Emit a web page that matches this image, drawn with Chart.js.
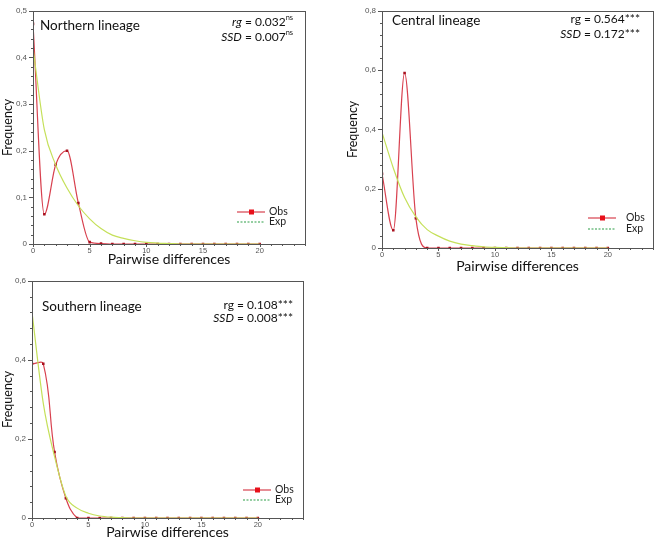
<!DOCTYPE html>
<html lang="en">
<head>
  <meta charset="UTF-8" />
  <title>Mismatch distributions</title>
  <script src="https://cdn.jsdelivr.net/npm/chart.js"></script>
  <style>
    * { margin: 0; padding: 0; }
    body { background: #fff; width: 657px; height: 539px; position: relative; overflow: hidden; }
    .panel { position: absolute; }
  </style>
</head>
<body>
  <div class="panel" id="north-box" style="left:0;top:0;width:312px;height:272px"><canvas id="north"></canvas></div>
  <div class="panel" id="central-box" style="left:345px;top:0;width:312px;height:275px"><canvas id="central"></canvas></div>
  <div class="panel" id="south-box" style="left:0;top:270px;width:312px;height:269px"><canvas id="south"></canvas></div>

  <script>
    // data
    const pairwiseDiffs = [0, 1, 2, 3, 4, 5, 6, 7, 8, 9, 10, 11, 12, 13, 14, 15, 16, 17, 18, 19, 20];
    const xTicks = [0, 5, 10, 15, 20];

    const northObs = [0.472, 0.064, 0.170, 0.200, 0.088, 0.004, 0.001, 0, 0, 0, 0, 0, 0, 0, 0, 0, 0, 0, 0, 0, 0];
    const northExp = [0.42, 0.245, 0.17, 0.12, 0.082, 0.054, 0.033, 0.019, 0.012, 0.007, 0.0035, 0.002, 0.001, 0, 0, 0, 0, 0, 0, 0, 0];
    const northYTicks = [0, 0.1, 0.2, 0.3, 0.4, 0.5];

    const centralObs = [0.25, 0.06, 0.59, 0.10, 0, 0, 0, 0, 0, 0, 0, 0, 0, 0, 0, 0, 0, 0, 0, 0, 0];
    const centralExp = [0.39, 0.27, 0.17, 0.105, 0.062, 0.04, 0.023, 0.013, 0.008, 0.004, 0.002, 0.001, 0, 0, 0, 0, 0, 0, 0, 0, 0];
    const centralYTicks = [0, 0.2, 0.4, 0.6, 0.8];

    const southObs = [0.39, 0.39, 0.167, 0.05, 0, 0, 0, 0, 0, 0, 0, 0, 0, 0, 0, 0, 0, 0, 0, 0, 0];
    const southExp = [0.52, 0.29, 0.155, 0.055, 0.025, 0.012, 0.005, 0.002, 0.001, 0, 0, 0, 0, 0, 0, 0, 0, 0, 0, 0, 0];
    const southYTicks = [0, 0.2, 0.4, 0.6];

    const OBS_LINE = '#d8414f';
    const OBS_POINT = '#a8101e';
    const EXP_LINE = '#c5e05a';
    const FONT = 'Lato, "Open Sans", sans-serif';

    const panels = [
      {
        id: 'north', obs: northObs, exp: northExp, yTicks: northYTicks, yMinor: 0.02, obsSmooth: 'monotone',
        title: 'Northern lineage',
        rg: [['rg', true], [' = 0.032', false], ['ns', false, true]],
        ssd: [['SSD', true], [' = 0.007', false], ['ns', false, true]],
        yWidth: 33, xHeight: 28, titleBottom: 6, pad: { left: 0, top: 6, right: 7, bottom: 0 },
        titlePos: [7, 15], statPos: [12, 11, 26], legPos: [68, 36, 32, 22]
      },
      {
        id: 'central', obs: centralObs, exp: centralExp, yTicks: centralYTicks, yMinor: 0.04, obsSmooth: 'monotone',
        title: 'Central lineage',
        rg: [['rg', false], [' = 0.564***', false]],
        ssd: [['SSD', true], [' = 0.172***', false]],
        yWidth: 37, xHeight: 27, titleBottom: 2, pad: { left: 0, top: 8, right: 2, bottom: 0 },
        titlePos: [10, 10], statPos: [13, 8, 23], legPos: [65, 27, 30, 19]
      },
      {
        id: 'south', obs: southObs, exp: southExp, yTicks: southYTicks, yMinor: 0.04, obsSmooth: 'default',
        title: 'Southern lineage',
        rg: [['rg', false], [' = 0.108***', false]],
        ssd: [['SSD', true], [' = 0.008***', false]],
        yWidth: 32, xHeight: 21, titleBottom: 0, pad: { left: 0, top: 9, right: 9, bottom: 0 },
        titlePos: [10, 26], statPos: [10, 24, 37], legPos: [60, 28, 28, 18]
      }
    ];

    function richText(ctx, parts, rightX, y, size) {
      const fontFor = p => (p[1] ? 'italic ' : '') + (p[2] ? size * 0.62 : size) + 'px ' + FONT;
      let total = 0;
      parts.forEach(p => { ctx.font = fontFor(p); total += ctx.measureText(p[0]).width; });
      let x = rightX - total;
      ctx.textAlign = 'left';
      ctx.textBaseline = 'middle';
      parts.forEach(p => {
        ctx.font = fontFor(p);
        ctx.fillText(p[0], x, p[2] ? y - size * 0.32 : y);
        x += ctx.measureText(p[0]).width;
      });
    }

    const decorPlugin = {
      id: 'decor',
      afterDraw(chart, args, opts) {
        const p = opts.panel;
        const { ctx, chartArea: a } = chart;
        const xs = chart.scales.x, ys = chart.scales.y;
        ctx.save();
        // frame
        ctx.strokeStyle = '#555';
        ctx.lineWidth = 1;
        ctx.strokeRect(Math.round(a.left) + 0.5, Math.round(a.top) + 0.5,
                       Math.round(a.right - a.left), Math.round(a.bottom - a.top));
        // y ticks
        const yMax = p.yTicks[p.yTicks.length - 1];
        for (let i = 0; i * p.yMinor <= yMax + 1e-9; i++) {
          const v = i * p.yMinor;
          const y = Math.round(ys.getPixelForValue(v)) + 0.5;
          const major = p.yTicks.some(t => Math.abs(t - v) < 1e-9);
          ctx.beginPath();
          ctx.moveTo(a.left, y);
          ctx.lineTo(a.left - (major ? 4 : 2), y);
          ctx.stroke();
        }
        // x ticks
        for (let v = 0; v <= 24; v++) {
          const x = Math.round(xs.getPixelForValue(v)) + 0.5;
          const major = xTicks.includes(v);
          ctx.beginPath();
          ctx.moveTo(x, a.bottom);
          ctx.lineTo(x, a.bottom + (major ? 3 : 2));
          ctx.stroke();
        }
        // panel title
        ctx.fillStyle = '#111';
        ctx.font = '13.5px ' + FONT;
        ctx.textAlign = 'left';
        ctx.textBaseline = 'middle';
        ctx.fillText(p.title, a.left + p.titlePos[0], a.top + p.titlePos[1]);
        // statistics
        richText(ctx, p.rg, a.right - p.statPos[0], a.top + p.statPos[1], 12);
        richText(ctx, p.ssd, a.right - p.statPos[0], a.top + p.statPos[2], 12);
        // legend
        const lx1 = a.right - p.legPos[0], lx2 = lx1 + 28, tx = a.right - p.legPos[1];
        const oy = a.bottom - p.legPos[2], ey = a.bottom - p.legPos[3];
        ctx.strokeStyle = OBS_LINE;
        ctx.lineWidth = 1.2;
        ctx.beginPath(); ctx.moveTo(lx1, oy); ctx.lineTo(lx2, oy); ctx.stroke();
        ctx.fillStyle = '#e8101a';
        ctx.fillRect(lx1 + 12, oy - 2.5, 5, 5);
        ctx.strokeStyle = '#2c9e47';
        ctx.setLineDash([2, 1.5]);
        ctx.beginPath(); ctx.moveTo(lx1, ey); ctx.lineTo(lx2, ey); ctx.stroke();
        ctx.setLineDash([]);
        ctx.fillStyle = '#222';
        ctx.font = '10.5px ' + FONT;
        ctx.fillText('Obs', tx, oy);
        ctx.fillText('Exp', tx, ey);
        ctx.restore();
      }
    };

    const fmt = v => (v === 0 ? '0' : v.toFixed(1).replace('.', ','));

    panels.forEach(p => {
      const obsPts = pairwiseDiffs.map((x, i) => ({ x, y: p.obs[i] }));
      const expPts = pairwiseDiffs.map((x, i) => ({ x, y: p.exp[i] }));
      new Chart(document.getElementById(p.id), {
        type: 'line',
        data: {
          datasets: [
            {
              label: 'Exp', data: expPts, borderColor: EXP_LINE, borderWidth: 1.2,
              pointRadius: 0, cubicInterpolationMode: 'monotone', fill: false
            },
            {
              label: 'Obs', data: obsPts, borderColor: OBS_LINE, borderWidth: 1.2,
              pointStyle: 'rect', pointRadius: 1.8, pointBackgroundColor: OBS_POINT,
              pointBorderColor: OBS_POINT, pointBorderWidth: 0,
              cubicInterpolationMode: p.obsSmooth, tension: 0.4, fill: false
            }
          ]
        },
        options: {
          responsive: true,
          maintainAspectRatio: false,
          animation: false,
          events: [],
          layout: { padding: p.pad },
          plugins: { legend: { display: false }, tooltip: { enabled: false }, decor: { panel: p } },
          scales: {
            x: {
              type: 'linear', min: 0, max: 24,
              afterBuildTicks: s => { s.ticks = xTicks.map(v => ({ value: v })); },
              afterFit: s => { s.height = p.xHeight; },
              grid: { display: false, drawTicks: false },
              border: { display: false },
              ticks: { font: { size: 7.5, family: 'Liberation Sans' }, color: '#555', padding: 2, maxRotation: 0 },
              title: { display: true, text: 'Pairwise differences', color: '#111',
                       font: { size: 14, family: FONT, lineHeight: 1 }, padding: { top: 0, bottom: p.titleBottom } }
            },
            y: {
              min: 0, max: p.yTicks[p.yTicks.length - 1],
              afterBuildTicks: s => { s.ticks = p.yTicks.map(v => ({ value: v })); },
              afterFit: s => { s.width = p.yWidth; },
              grid: { display: false, drawTicks: false },
              border: { display: false },
              ticks: { font: { size: 8, family: 'Liberation Sans' }, color: '#555', padding: 6, callback: v => fmt(v) },
              title: { display: true, text: 'Frequency', color: '#111',
                       font: { size: 12.5, family: FONT }, padding: { top: 0, bottom: 0 } }
            }
          }
        },
        plugins: [decorPlugin]
      });
    });
  </script>
</body>
</html>
